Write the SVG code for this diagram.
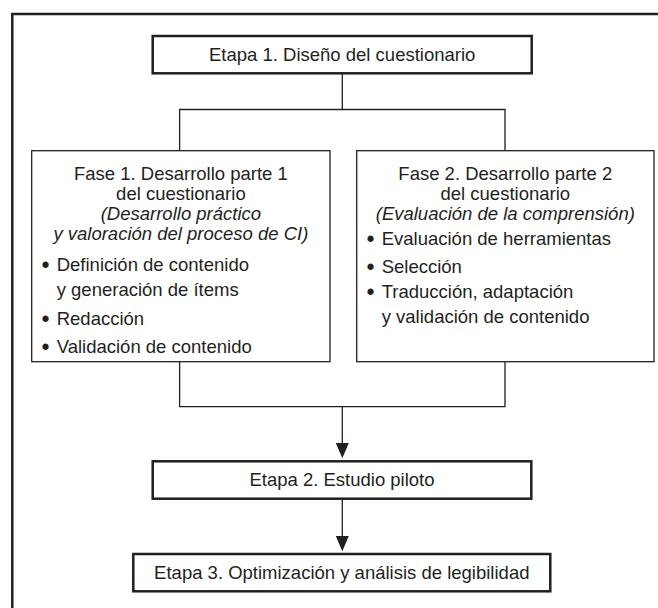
<svg xmlns="http://www.w3.org/2000/svg" width="658" height="608" viewBox="0 0 658 608">
<defs>
<style>
.t{font-family:"Liberation Sans",Arial,sans-serif;font-size:18.5px;fill:#231f20}
.c{text-anchor:middle}
.i{font-style:italic}
.b{font-family:"Liberation Sans",Arial,sans-serif;font-size:23px;fill:#231f20}
.thick{fill:#fff;stroke:#231f20;stroke-width:2.5}
.thin{fill:#fff;stroke:#231f20;stroke-width:1.3}
.ln{fill:none;stroke:#231f20;stroke-width:1.3}
.ah{fill:#231f20}
</style>
</defs>
<rect width="658" height="608" fill="#fff"/>
<path d="M12.3,620 V14 H670" fill="none" stroke="#231f20" stroke-width="2.5"/>
<g id="connectors">
<path class="ln" d="M342.3,73 V109.5 M179.6,150.7 V109.5 H505 V150.7"/>
<path class="ln" d="M179.6,361.7 V406.7 H505 V361.7"/>
<path class="ln" d="M342.3,406.7 V443"/>
<path class="ah" d="M335.8,443 L348.8,443 L342.3,458.3 Z"/>
<path class="ln" d="M342.3,498.7 V536"/>
<path class="ah" d="M335.8,536 L348.8,536 L342.3,551.3 Z"/>
</g>
<g id="etapa1">
<rect class="thick" x="152.7" y="36" width="379" height="37.3"/>
<text class="t c" x="342.2" y="61">Etapa 1. Diseño del cuestionario</text>
</g>
<g id="fase1">
<rect class="thin" x="31.7" y="150.7" width="298.3" height="211"/>
<text class="t c" x="180.9" y="180">Fase 1. Desarrollo parte 1</text>
<text class="t c" x="180.9" y="200">del cuestionario</text>
<text class="t c i" x="180.9" y="220">(Desarrollo práctico</text>
<text class="t c i" x="180.9" y="240">y valoración del proceso de CI)</text>
<text class="b" x="41.5" y="273">•</text>
<text class="t" x="56.7" y="271">Definición de contenido</text>
<text class="t" x="56.7" y="296">y generación de ítems</text>
<text class="b" x="41.5" y="326.5">•</text>
<text class="t" x="56.7" y="324.5">Redacción</text>
<text class="b" x="41.5" y="355">•</text>
<text class="t" x="56.7" y="353">Validación de contenido</text>
</g>
<g id="fase2">
<rect class="thin" x="356.7" y="150.7" width="297.3" height="211"/>
<text class="t c" x="505.3" y="180">Fase 2. Desarrollo parte 2</text>
<text class="t c" x="505.3" y="200">del cuestionario</text>
<text class="t c i" x="505.3" y="220">(Evaluación de la comprensión)</text>
<text class="b" x="366.5" y="246.5">•</text>
<text class="t" x="381.7" y="244.5">Evaluación de herramientas</text>
<text class="b" x="366.5" y="275">•</text>
<text class="t" x="381.7" y="273">Selección</text>
<text class="b" x="366.5" y="300">•</text>
<text class="t" x="381.7" y="298">Traducción, adaptación</text>
<text class="t" x="381.7" y="322.5">y validación de contenido</text>
</g>
<g id="etapa2">
<rect class="thick" x="152.7" y="461.3" width="378.6" height="37.4"/>
<text class="t c" x="342" y="486">Etapa 2. Estudio piloto</text>
</g>
<g id="etapa3">
<rect class="thick" x="133.3" y="554" width="417" height="37.3"/>
<text class="t c" x="341.8" y="578.5">Etapa 3. Optimización y análisis de legibilidad</text>
</g>
</svg>
